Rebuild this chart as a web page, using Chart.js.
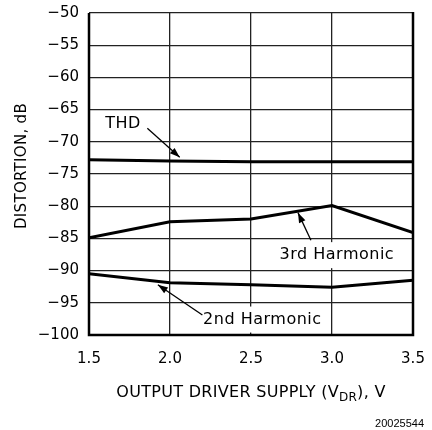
<!DOCTYPE html>
<html>
<head>
<meta charset="utf-8">
<script src="https://cdn.jsdelivr.net/npm/chart.js@4.4.1/dist/chart.umd.min.js"></script>
<style>
  html, body { margin: 0; padding: 0; background: #fff; }
  #wrap { width: 432px; height: 430px; }
</style>
</head>
<body>
<div id="wrap"><canvas id="grafico"></canvas></div>
<script>
// dados
const supplyVolts = [1.5, 2.0, 2.5, 3.0, 3.5];
const thdDb = [-72.8, -73.0, -73.1, -73.1, -73.1];
const harm3Db = [-84.9, -82.4, -82.0, -79.9, -84.1];
const harm2Db = [-90.5, -91.9, -92.2, -92.6, -91.5];
const xTicks = [1.5, 2.0, 2.5, 3.0, 3.5];
const yTicks = [-100, -95, -90, -85, -80, -75, -70, -65, -60, -55, -50];

const FONT = '"DejaVu Sans", sans-serif';

function pts(vals) {
    return supplyVolts.map((v, i) => ({ x: v, y: vals[i] }));
}

function serie(label, vals) {
    return {
        label: label,
        data: pts(vals),
        borderColor: '#000',
        borderWidth: 3,
        pointRadius: 0,
        tension: 0,
        fill: false
    };
}

// setas e caixas de texto
function seta(ctx, x1, y1, x2, y2) {
    ctx.save();
    ctx.strokeStyle = '#000';
    ctx.fillStyle = '#000';
    ctx.lineWidth = 1.3;
    ctx.beginPath();
    ctx.moveTo(x1, y1);
    ctx.lineTo(x2, y2);
    ctx.stroke();
    const ang = Math.atan2(y2 - y1, x2 - x1);
    const len = 10, w = 3.5;
    ctx.beginPath();
    ctx.moveTo(x2, y2);
    ctx.lineTo(x2 - len * Math.cos(ang) + w * Math.sin(ang), y2 - len * Math.sin(ang) - w * Math.cos(ang));
    ctx.lineTo(x2 - len * Math.cos(ang) - w * Math.sin(ang), y2 - len * Math.sin(ang) + w * Math.cos(ang));
    ctx.closePath();
    ctx.fill();
    ctx.restore();
}

function rotulo(ctx, txt, x, y, fundo) {
    ctx.save();
    ctx.font = '16px ' + FONT;
    ctx.letterSpacing = '0.5px';
    ctx.textAlign = 'center';
    ctx.textBaseline = 'middle';
    if (fundo) {
        const w = ctx.measureText(txt).width;
        ctx.fillStyle = '#fff';
        ctx.fillRect(x - w / 2 - 5, y - 13, w + 10, 26);
    }
    ctx.fillStyle = '#000';
    ctx.fillText(txt, x, y);
    ctx.restore();
}

const anotacoes = {
    id: 'anotacoes',
    beforeDatasetsDraw(chart) {
        const ctx = chart.ctx;
        const xs = chart.scales.x, ys = chart.scales.y;
        const X = v => xs.getPixelForValue(v);
        const Y = v => ys.getPixelForValue(v);

        rotulo(ctx, 'THD', X(1.71), Y(-67.2), false);
        seta(ctx, X(1.86), Y(-67.9), X(2.06), Y(-72.4));

        rotulo(ctx, '3rd Harmonic', X(3.03), Y(-87.6), true);
        seta(ctx, X(2.87), Y(-85.3), X(2.79), Y(-81.0));

        rotulo(ctx, '2nd Harmonic', X(2.57), Y(-97.6), true);
        seta(ctx, X(2.20), Y(-96.9), X(1.925), Y(-92.2));
    },
    afterDatasetsDraw(chart) {
        const ctx = chart.ctx;
        const a = chart.chartArea;
        ctx.save();
        // moldura: topo fino, outros lados grossos
        ctx.strokeStyle = '#000';
        ctx.lineWidth = 2.5;
        ctx.beginPath();
        ctx.moveTo(a.left, a.top);
        ctx.lineTo(a.left, a.bottom);
        ctx.lineTo(a.right, a.bottom);
        ctx.lineTo(a.right, a.top - 1);
        ctx.stroke();

        // titulos dos eixos
        ctx.fillStyle = '#000';
        ctx.textBaseline = 'middle';
        ctx.letterSpacing = '0.3px';
        const p1 = 'OUTPUT DRIVER SUPPLY (V';
        const p2 = 'DR';
        const p3 = '), V';
        ctx.font = '16px ' + FONT;
        const w1 = ctx.measureText(p1).width;
        const w3 = ctx.measureText(p3).width;
        ctx.font = '12px ' + FONT;
        const w2 = ctx.measureText(p2).width;
        const cx = (a.left + a.right) / 2;
        const x0 = cx - (w1 + w2 + w3) / 2;
        const yT = 393;
        ctx.textAlign = 'left';
        ctx.font = '16px ' + FONT;
        ctx.fillText(p1, x0, yT);
        ctx.font = '12px ' + FONT;
        ctx.fillText(p2, x0 + w1, yT + 5);
        ctx.font = '16px ' + FONT;
        ctx.fillText(p3, x0 + w1 + w2, yT);

        ctx.save();
        ctx.translate(22, 166);
        ctx.rotate(-Math.PI / 2);
        ctx.textAlign = 'center';
        ctx.font = '15px ' + FONT;
        ctx.fillText('DISTORTION, dB', 0, 0);
        ctx.restore();

        ctx.letterSpacing = '0px';
        ctx.font = '11px "Liberation Sans", Arial, sans-serif';
        ctx.textAlign = 'right';
        ctx.fillText('20025544', 424, 424);
        ctx.restore();
    }
};

const config = {
    type: 'line',
    data: {
        datasets: [
            serie('THD', thdDb),
            serie('3rd Harmonic', harm3Db),
            serie('2nd Harmonic', harm2Db)
        ]
    },
    options: {
        responsive: true,
        maintainAspectRatio: false,
        animation: false,
        events: [],
        layout: {
            padding: { top: 13, right: 19, left: 0, bottom: 0 }
        },
        plugins: {
            legend: { display: false },
            tooltip: { enabled: false }
        },
        scales: {
            x: {
                type: 'linear',
                min: 1.5,
                max: 3.5,
                afterBuildTicks: s => { s.ticks = xTicks.map(v => ({ value: v })); },
                afterFit: s => { s.height = 95; s.paddingLeft = 0; s.paddingRight = 0; },
                ticks: {
                    color: '#000',
                    padding: 15,
                    font: { family: FONT, size: 15 },
                    maxRotation: 0,
                    callback: v => v.toFixed(1)
                },
                grid: { color: '#222', lineWidth: 1.3, drawTicks: false },
                border: { display: false }
            },
            y: {
                min: -100,
                max: -50,
                afterBuildTicks: s => { s.ticks = yTicks.map(v => ({ value: v })); },
                afterFit: s => { s.width = 89; s.paddingTop = 0; s.paddingBottom = 0; },
                ticks: {
                    color: '#000',
                    padding: 10,
                    font: { family: FONT, size: 15 },
                    callback: v => String(v).replace('-', '\u2212')
                },
                grid: { color: '#222', lineWidth: 1.3, drawTicks: false },
                border: { display: false }
            }
        }
    },
    plugins: [anotacoes]
};

const grafico = new Chart(document.getElementById('grafico'), config);
</script>
</body>
</html>
